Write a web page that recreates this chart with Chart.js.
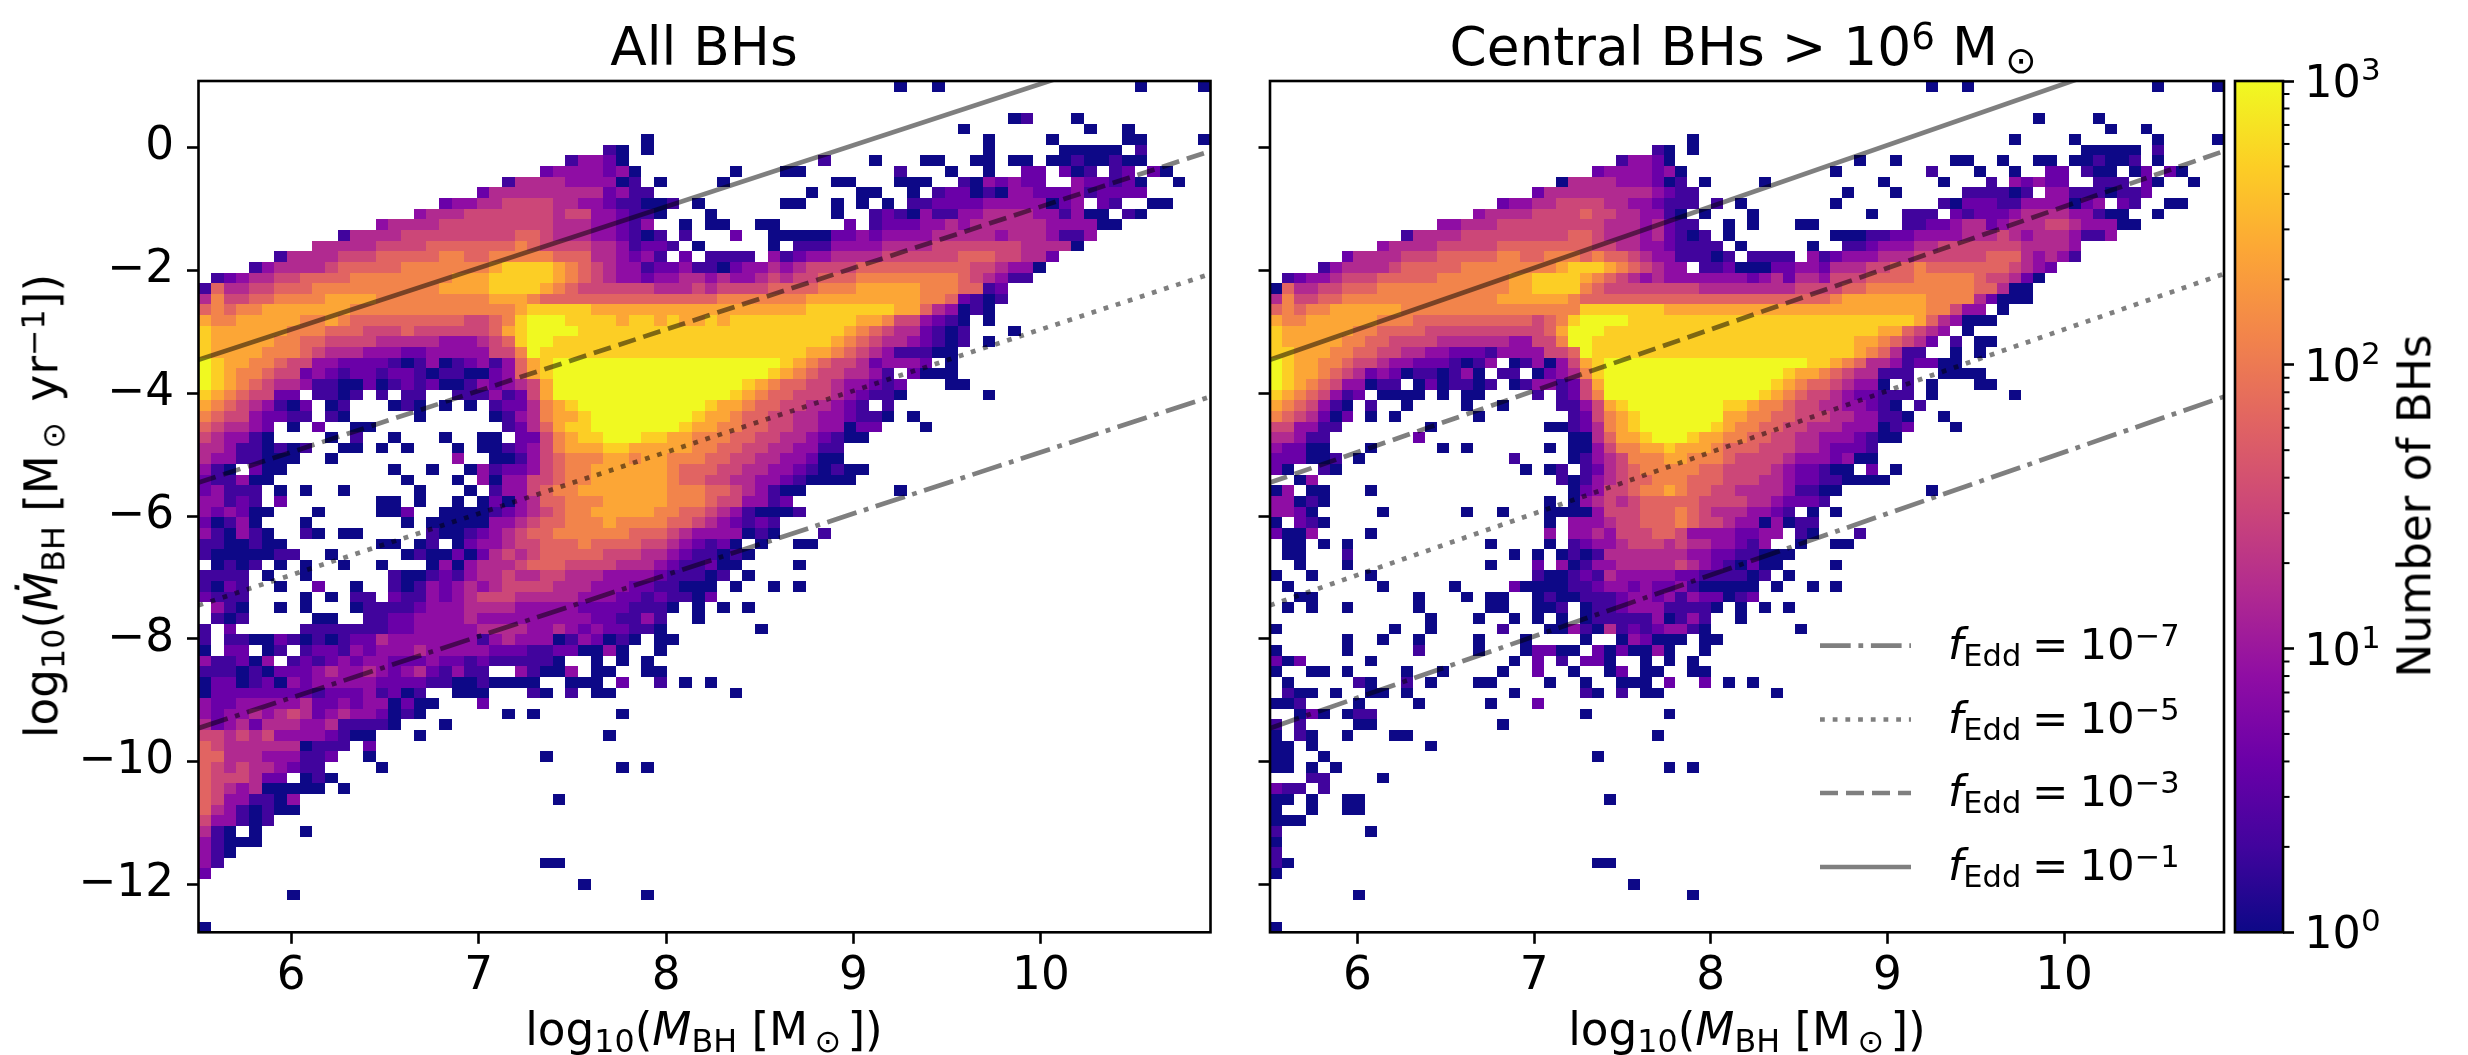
<!DOCTYPE html>
<html>
<head>
<meta charset="utf-8">
<script src="https://cdn.jsdelivr.net/npm/chart.js@4/dist/chart.umd.js"></script>
<style>
html, body { margin: 0; padding: 0; background: #fff; }
#page { position: relative; width: 2468px; height: 1055px; overflow: hidden; background: #fff; font-family: "DejaVu Sans"; color: #000; filter: blur(0.4px); }
canvas { position: absolute; top: 0; }
.label { position: absolute; line-height: 1; white-space: nowrap; }
.label i { font-style: italic; }
.lo { font-size: .7em; position: relative; top: .22em; }
.hi { font-size: .7em; position: relative; top: -.42em; }
.rot { transform: translate(-50%, -50%) rotate(-90deg); }
.mid { transform: translateX(-50%); }
.title { font-size: 53.3px; top: 21px; }
.xlab { font-size: 45.3px; top: 1007px; }
.leg { font-size: 43.5px; left: 1948px; }
</style>
</head>
<body>
<div id="page">
  <canvas id="allChart" width="1222" height="1055" style="left:0"></canvas>
  <canvas id="centralChart" width="1008" height="1055" style="left:1222px"></canvas>
  <canvas id="cbarChart" width="238" height="1055" style="left:2230px"></canvas>

  <div class="label title mid" style="left:704px">All BHs</div>
  <div class="label title mid" style="left:1743px">Central BHs &gt; 10<span class="hi">6</span> M<span class="lo">&#8201;⊙</span></div>
  <div class="label xlab mid" style="left:704px">log<span class="lo">10</span>(<i>M</i><span class="lo">BH</span> [M<span class="lo">&#8201;⊙&#8201;</span>])</div>
  <div class="label xlab mid" style="left:1747px">log<span class="lo">10</span>(<i>M</i><span class="lo">BH</span> [M<span class="lo">&#8201;⊙&#8201;</span>])</div>
  <div class="label rot" style="left:42px;top:506px;font-size:45.3px">log<span class="lo">10</span>(<i>M&#775;</i><span class="lo">BH</span> [M<span class="lo">&#8201;⊙&#8201;</span> yr<span class="hi">−1</span>])</div>
  <div class="label rot" style="left:2415px;top:506px;font-size:45.3px">Number of BHs</div>
  <div class="label leg" style="top:623px"><i>f</i><span class="lo">Edd</span>&#8197;=&#8197;10<span class="hi">−7</span></div>
  <div class="label leg" style="top:697px"><i>f</i><span class="lo">Edd</span>&#8197;=&#8197;10<span class="hi">−5</span></div>
  <div class="label leg" style="top:770px"><i>f</i><span class="lo">Edd</span>&#8197;=&#8197;10<span class="hi">−3</span></div>
  <div class="label leg" style="top:844px"><i>f</i><span class="lo">Edd</span>&#8197;=&#8197;10<span class="hi">−1</span></div>
</div>

<script>
// axis limits and ticks
const xLimits = [5.505, 10.905]
const yLimits = [-12.78, 1.086]
const xTicks = [6, 7, 8, 9, 10]
const yTicks = [-12, -10, -8, -6, -4, -2, 0]
const cbarLimits = [1, 1000]
const cbarMajor = [1, 10, 100, 1000]
const cbarMinor = [2, 3, 4, 5, 6, 7, 8, 9, 20, 30, 40, 50, 60, 70, 80, 90, 200, 300, 400, 500, 600, 700, 800, 900]
const cbarExponents = ['0', '1', '2', '3']

// fEdd lines, log10(Mdot) read at both ends of the mass range
const lineMass = [5.505, 10.905]
const mdotEdd7 = [-9.455, -4.055]
const mdotEdd5 = [-7.455, -2.055]
const mdotEdd3 = [-5.455, -0.055]
const mdotEdd1 = [-3.455, 1.945]

const plasmaStops = ['#0d0887', '#41049d', '#6a00a8', '#8f0da4', '#b12a90', '#cc4778', '#e16462', '#f2844b', '#fca636', '#fcce25', '#f0f921']

// histogram rows, top row first, 80 columns. '.' is an empty bin, 0-9 and a are
// log2-ish count steps: count = 10^(0.3 * step)
const allRows = [
".......... .......... .......... .......... .......... .....0..0. .......... ....0....0",
"",
"",
".......... .......... .......... .......... .......... .......... ....01...0",
".......... .......... .......... .......... .......... .......... 0......... 0..0......",
".......... .......... .......... .....0.... .......... .......... ..0....0.. ...00....0",
".......... .......... .......... ..10.0.... .......... .......... ..0.....00 000.1.....",
".......... .......... .........1 3320...... .........1 ...0...00. .00.00.001 00100.....",
".......... .......... .......233 33230..... ..0...00.. .....1...0 ..0..22.20 1.12.20...",
".......... .......... ....144443 33301.0... .0........ 00...000.. 1032322..3 22120..0..",
".......... .......... ..24444444 442311.... ........0. ..00..0.12 2010332223 12222.....",
".......... .........2 3344555544 33211001.0 ......00.. 0.0.0.1122 2233333023 .21..00...",
".......... .......344 4555555545 5332110... 0......... 0..1210311 3344443313 00.10.....",
".......... ....344445 5555555544 433213..0. 00..00.... .2.1222334 3444444333 300.......",
".......... .144445555 5555566544 4332101.1. ..2..00000 2232333344 4443444311 3.........",
".........4 4444555566 6666676555 54431221.0 .....0.111 3333444455 5555544440",
"......1444 4555666667 7667777766 6443231.2. 1111.31233 4444555555 66655442..",
"....134444 5666667777 7778999987 6543312231 1023343455 5566666666 6554330...",
".123445566 6677777777 8889999987 6543323344 3433454556 6677777777 654311....",
"1644556667 7777777778 8889999876 5555554445 4555566667 7788888777 6612......",
"4755667777 8888777777 7778887666 6666666666 6777777788 8888888776 2101......",
"6767788888 8877777777 7777789999 9888888888 8888888899 9999988643 010.......",
"8778888877 8766666666 655679aaa9 9998998988 9899999999 9988755321 0.0.......",
"9888888777 6665556555 555689aaaa 9999999999 9999999999 9876544210 1...0.....",
"9888887766 5555444443 334569aa99 9999999999 9999999999 8765443210 1.0.......",
"9888877765 4443332233 333557a999 9999999999 9999999988 7654311100",
"a988776553 3222210130 12313689aa aaaaaaaaaa aaaaaa9876 55423332.0",
"a987765523 2122122101 10023689aa aaaaaaaaaa aaaaa98765 54431.2000",
"a987654431 1002012120 01323458aa aaaaaaaaaa aaa9876655 433212...0 0.........",
"98765522.1 101.1.11.. 11131258aa aaaaaaaaaa aa98766555 432110.... ..0.......",
"876543102. 01...010.0 .0.1224789 aaaaaaaaaa 9887665544 321.1.....",
"765532211. 10.....0.. ...0134788 9aaaaaaaa9 8876655443 32110.0...",
"654432.0.2 ..00...... ....124689 9aaaaaaa98 8776655443 3022...0..",
"543310.... 0.1..0...0 ..00.22578 99aaa99887 7766554432 100.......",
"443110101. .00.0.0... 0.00123578 8899888887 7665544331 1.........",
"43311000.. 0......... 3..0013567 7788788777 6655443320 0.........",
"310.200... .....0..0. .031223567 7888888766 6554433210 100.......",
"211300.... ......0... 0.30335567 7888888766 5544332100 00........",
"23111.0.0. .0.....0.. .0.1335677 8888888777 66543100.. .....0....",
"33121.2... ....00.0.. 0.02034667 7788888777 6553312...",
"323200...0 ....002..0 0001234567 7888887766 54310001..",
"20130...0. ......0.00 0003345667 7787777665 432121....",
"310310..10 .00.....10 0123456677 7777666543 333010...1",
"1100100... ....00.01. 0233455666 7666655432 120.0..00.",
"10000011.. 0.....0100 2024545666 6655544321 1010......",
".0101.0.0. .0..0...03 0344456665 5554443211 200....0..",
"1111.0..0. .....10012 1344544554 4433332111 01.0......",
"1021..0..2 ..0..10132 3434555544 4333221100 0.0..0.0..",
"2111....0. 0.11.21132 3455544444 3332212110 2.........",
".310..0.0. ..01111233 3444433333 22221110.0 .0.0......",
".101.....0 0..1122333 3433333333 3221131..0",
"1.2.....11 1111122333 3344443343 2322110... ....0.....",
"1.11002101 0122433333 3313433301 32010.00..",
"0.22.01.12 2132333433 3332221122 0030..0...",
"311203.121 2323322232 212111110. .0.0.0....",
"1110102223 4334323421 311..31003 .00..00...",
"0220120323 3333222211 0010000..0 00.2..1.0. 0.........",
"0222222221 22231201.. 000...10.1 .00....... ..0.......",
"3223333342 232330200. ..2.......",
"3233434542 34332010.. ....0.0... ...0......",
"4234244433 411110...0",
"5545453333 2100...0.. .......... ..0.......",
"6544444401 11.2......",
"6644433311 2..0...... .......0..",
"6545443211 ....0..... .......... ...0.0....",
"6555422.01 0.........",
"6543400000 .0........",
"65331103.. .......... ........0.",
"64310100..",
"533101....",
"410.0...0.",
"31000.....",
"310.......",
"31........ .......... .......00.",
"2.........",
".......... .......... .......... 0.........",
".......0.. .......... .......... .....0....",
"",
"",
"0........."
]

const centralRows = [
".......... .......... .......... .......... .......... .....0..0. .......... ....0....0",
"",
"",
".......... .......... .......... .......... .......... .......... ....0....0",
".......... .......... .......... .......... .......... .......... .......... 0..0......",
".......... .......... .......... .....0.... .......... .......... ..0....0.. ....0....0",
".......... .......... .......... ..10.0.... .......... .......... ........00 000.1.....",
".......... .......... .........1 3320...... .........0 ..0....00. .0..00.001 001.0.....",
".......... .......... .......233 33230..... .......0.. .....1...0 ..0..22.10 0.02.20...",
".......... .......... ....044443 33201.0... .0........ .0....0... 1.32322..1 11.20..0..",
".......... .......... ..24444444 443211.... ........0. ..0.....11 1101.33111 0112......",
".......... .........2 3344555544 332111.1.0 .......0.. ......1022 2113333023 .21..00...",
".......... .......344 4455556554 43310.0... 0......... 0..111.212 2234444331 00..0.....",
".......... ....334445 5555555544 434211..0. 0...00.... ...1122344 2344455433 300.......",
".......... .144445555 5555566544 4342101.0. .......000 1122333344 4543444311 3.........",
".........3 4444555556 6666666554 43321111.0 .....0..11 2333445555 55544443..",
"......2444 4555666667 7667776766 543311101. 1111.31233 3444555555 66643431..",
"....134444 5666667777 7777899987 65433.1120 0022332444 5566766666 665432....",
".123345556 6666777777 8899998765 4343333333 2342443555 6666777776 55420.....",
"0644556667 7777777777 8899997655 5555554444 4444555566 7777777776 6400......",
"4755667777 7777777778 8888876666 6666666666 6666666788 8888877774 2000......",
"6767788888 8777777777 7777779999 9998888888 8888888888 8888877533 .0........",
"8778888887 7766666666 665679aaaa 9999999999 9999999999 9999864300 0.........",
"9888888776 6665555555 55568aaa99 9999999999 9999999999 9886543.0.",
"9888887766 5555444444 33557aa999 9999999999 9999999998 876542.1.0 0.........",
"9988877665 5443322213 333556a999 9999999999 9999999998 76411..0.0",
"a988776554 332221013. 01303589aa aaaaaaaaaa aaaaa99876 44312200..",
"a988765423 20110130.1 1.023479aa aaaaaaaaaa aaa9887654 4111..0000",
"a987653301 1.0201101. 01331258aa aaaaaaaaaa aa98766543 30.1.0...0 0.........",
"98765312.0 000.0.00.. ..1.1257aa aaaaaaaaaa a987655432 2111.0.... ..0.......",
"8765310.1. .0....0..0 ....113589 aaaaaaaa99 8776554433 210.1.....",
"7654202.0. 0......0.. .....12578 9aaaaaaa88 7766555443 3110..0...",
"553311.... ...0...... ...0012478 9aaaaaa987 7665544433 3012...0..",
"44311..... ..2....... .....00468 89aaa98877 6655443332 100.......",
"32200...0. ....0.0... ...0.00357 7889888766 6555443222 1.........",
"222001.0.. .......... 1....01345 7778877765 5554333230 0.........",
"20..10.... .......... .0.01.1245 6777776655 554322100. 2.0.......",
"..03...... .......... ....101345 6677766655 5443221100 00........",
"03.00...0. .......... .....02355 6778766554 44431100.. .....0....",
"33010..... .......... ...0.03454 5666665555 4432221...",
"3320.....0 ......0..0 ...0000355 5666765444 3321.0.0..",
"0.210..... .......... ...0.33345 5666765543 303011....",
"2003....0. .......... ...3.33435 5566533332 233.10...1",
".00.0.0... ........0. ...0.12334 5554544332 13..0..00.",
".00...1... .......... 0.0.010144 4444433221 1000......",
"..0...0... ........0. ..2.301334 4444543210 200....0..",
"0..0....0. .......... ..10012143 3333221111 01.0......",
".0.......0 .....0.... 2000011233 2322310000 0.0..0.0..",
"..00...... ..0...0.00 ..01001112 3323132201 2.........",
".0.0..0... ..0.....00 ..001.0112 33311110.0 .0.0......",
".......... ...0...0.. 0.0.0.0111 1130131..0",
"0......... 0..0.....1 ...0031041 2123310... ....0.....",
"......0..0 ..0....0.. .0....0..0 32000.00..",
"0.....0... ..1....0.. .02200.202 0030..0...",
"202.....0. .......... 0.2.1.220. .0.0.0....",
"0..00.0... .0..0....0 ..2..0..02 .00..00...",
".0.....10. .1.0...00. ...0..0..0 00.2..2.0. 0.........",
".100.0..00 .0........ 0.....10.1 .00....... ..0.......",
"001....0.. ..0.....0. ..2.......",
"..020.011. .......... ......0... ...0......",
"1.1....00. .........0",
"0.10..0... 00........ .......... ..0.......",
"00.0...... ...0......",
"00..0..... .......... .......0..",
"00.0.0.... .......... .......... ...0.0....",
"...11....0",
"211.1.....",
"00.0..00.. .......... ........0.",
"0..0..00..",
"000.......",
"1.......0.",
"0.........",
"1.........",
"10........ .......... .......00.",
"0.........",
".......... .......... .......... 0.........",
".......0.. .......... .......... .....0....",
"",
"",
"0........."
]

const binWidth = (xLimits[1] - xLimits[0]) / 80
const binHeight = (yLimits[1] - yLimits[0]) / 80

function RowsToCells(rows) {
    let cells = []
    rows.forEach((row, j) => {
        let chars = row.replace(/ /g, '')
        for (let i = 0; i < chars.length; i++) {
            if (chars[i] === '.') continue
            let step = chars[i] === 'a' ? 10 : Number(chars[i])
            cells.push({
                x: xLimits[0] + (i + 0.5) * binWidth,
                y: yLimits[1] - (j + 0.5) * binHeight,
                v: Math.pow(10, 0.3 * step)
            })
        }
    })
    return cells
}

function CountColor(v) {
    return plasmaStops[Math.round(Math.log10(v) / 0.3)]
}

// bin edge to whole pixel, toFixed so neighbours share the same edge and no seam shows
function EdgePixel(scale, value) {
    return Math.round(scale.getPixelForValue(Number(value.toFixed(6))))
}

// the histogram goes in dataset 0, painted under the lines
const cellPlugin = {
    id: 'cells',
    beforeDatasetsDraw(chart) {
        let { ctx, scales: { x, y } } = chart
        ctx.save()
        for (let c of chart.data.datasets[0].data) {
            let x0 = EdgePixel(x, c.x - binWidth / 2)
            let x1 = EdgePixel(x, c.x + binWidth / 2)
            let y0 = EdgePixel(y, c.y + binHeight / 2)
            let y1 = EdgePixel(y, c.y - binHeight / 2)
            ctx.fillStyle = CountColor(c.v)
            ctx.fillRect(x0, y0, x1 - x0, y1 - y0)
        }
        ctx.restore()
    }
}

const framePlugin = {
    id: 'frame',
    afterDatasetsDraw(chart) {
        let { ctx, chartArea: a } = chart
        ctx.save()
        ctx.strokeStyle = '#000'
        ctx.lineWidth = 2.6
        ctx.strokeRect(a.left, a.top, a.right - a.left, a.bottom - a.top)
        ctx.restore()
    }
}

const lineStyles = [
    { data: mdotEdd7, dash: [30.7, 7.7, 4.8, 7.7] },
    { data: mdotEdd5, dash: [4.8, 7.9] },
    { data: mdotEdd3, dash: [18, 8] },
    { data: mdotEdd1, dash: [] }
]

// line samples of the legend, the labels next to them are html
const legendPlugin = {
    id: 'lineSamples',
    afterDatasetsDraw(chart) {
        let ctx = chart.ctx
        let rows = [645.7, 719.5, 793, 867]
        ctx.save()
        ctx.strokeStyle = 'rgba(0,0,0,0.5)'
        ctx.lineWidth = 4.7
        lineStyles.forEach((s, i) => {
            ctx.setLineDash(s.dash)
            ctx.beginPath()
            ctx.moveTo(1820 - 1222, rows[i])
            ctx.lineTo(1911 - 1222, rows[i])
            ctx.stroke()
        })
        ctx.restore()
    }
}

function PanelChart(id, rows, yWidth, rightPad, showYLabels, extra) {
    return new Chart(document.getElementById(id), {
        type: 'scatter',
        data: {
            datasets: [
                { label: 'cells', data: RowsToCells(rows), pointRadius: 0, showLine: false },
                ...lineStyles.map((s, i) => ({
                    label: 'fEdd ' + i,
                    data: lineMass.map((m, k) => ({ x: m, y: s.data[k] })),
                    showLine: true,
                    pointRadius: 0,
                    borderColor: 'rgba(0,0,0,0.5)',
                    borderWidth: 4.7,
                    borderDash: s.dash
                }))
            ]
        },
        plugins: [cellPlugin, framePlugin, ...extra],
        options: {
            responsive: false,
            animation: false,
            events: [],
            layout: { padding: { left: 0, top: 81, right: rightPad, bottom: 0 } },
            plugins: { legend: { display: false }, tooltip: { enabled: false }, title: { display: false } },
            scales: {
                x: {
                    type: 'linear',
                    min: xLimits[0],
                    max: xLimits[1],
                    border: { display: false },
                    grid: { drawOnChartArea: false, tickLength: 11.5, tickWidth: 2.6, tickColor: '#000' },
                    ticks: { color: '#000', font: { family: 'DejaVu Sans', size: 45.3 }, padding: 6, maxRotation: 0, autoSkip: false },
                    afterBuildTicks(scale) { scale.ticks = xTicks.map(v => ({ value: v })) },
                    afterFit(scale) { scale.height = 1055 - 932.3 }
                },
                y: {
                    type: 'linear',
                    min: yLimits[0],
                    max: yLimits[1],
                    border: { display: false },
                    grid: { drawOnChartArea: false, tickLength: 11.5, tickWidth: 2.6, tickColor: '#000' },
                    ticks: {
                        display: showYLabels,
                        color: '#000',
                        font: { family: 'DejaVu Sans', size: 45.3 },
                        padding: 13,
                        autoSkip: false,
                        callback: v => String(v).replace('-', '−')
                    },
                    afterBuildTicks(scale) { scale.ticks = yTicks.map(v => ({ value: v })) },
                    afterFit(scale) { scale.width = yWidth }
                }
            }
        }
    })
}

PanelChart('allChart', allRows, 198.5, 11.5, true, [])
PanelChart('centralChart', centralRows, 48, 6, false, [legendPlugin])

const cbarPlugin = {
    id: 'cbar',
    beforeDatasetsDraw(chart) {
        let { ctx, chartArea: a, scales: { y } } = chart
        let grad = ctx.createLinearGradient(0, y.getPixelForValue(cbarLimits[0]), 0, y.getPixelForValue(cbarLimits[1]))
        plasmaStops.forEach((c, i) => grad.addColorStop(i / (plasmaStops.length - 1), c))
        ctx.save()
        ctx.fillStyle = grad
        ctx.fillRect(a.left, a.top, a.right - a.left, a.bottom - a.top)
        ctx.restore()
    },
    afterDatasetsDraw(chart) {
        let { ctx, chartArea: a, scales: { y } } = chart
        ctx.save()
        ctx.strokeStyle = '#000'
        ctx.lineWidth = 2
        for (let v of cbarMinor) {
            let p = y.getPixelForValue(v)
            ctx.beginPath()
            ctx.moveTo(a.right, p)
            ctx.lineTo(a.right + 6.5, p)
            ctx.stroke()
        }
        // decade labels, the axis ticks cannot set a superscript
        ctx.fillStyle = '#000'
        ctx.textBaseline = 'alphabetic'
        cbarMajor.forEach((v, i) => {
            let p = y.getPixelForValue(v)
            ctx.font = '44.5px "DejaVu Sans"'
            ctx.fillText('10', a.right + 21.3, p + 16)
            ctx.font = '31px "DejaVu Sans"'
            ctx.fillText(cbarExponents[i], a.right + 77.9, p - 1)
        })
        ctx.restore()
    }
}

new Chart(document.getElementById('cbarChart'), {
    type: 'scatter',
    data: { datasets: [{ label: 'Number of BHs', data: [] }] },
    plugins: [cbarPlugin, framePlugin],
    options: {
        responsive: false,
        animation: false,
        events: [],
        layout: { padding: { left: 5, top: 81, right: 0, bottom: 122.7 } },
        plugins: { legend: { display: false }, tooltip: { enabled: false } },
        scales: {
            x: { type: 'linear', display: false, min: 0, max: 1 },
            y: {
                type: 'logarithmic',
                position: 'right',
                min: cbarLimits[0],
                max: cbarLimits[1],
                border: { display: false },
                grid: {
                    drawOnChartArea: false,
                    tickLength: 11,
                    tickWidth: 2.6,
                    tickColor: '#000'
                },
                ticks: { display: false, autoSkip: false },
                afterBuildTicks(scale) { scale.ticks = cbarMajor.map(v => ({ value: v })) },
                afterFit(scale) { scale.width = 185 }
            }
        }
    }
})
</script>
</body>
</html>
